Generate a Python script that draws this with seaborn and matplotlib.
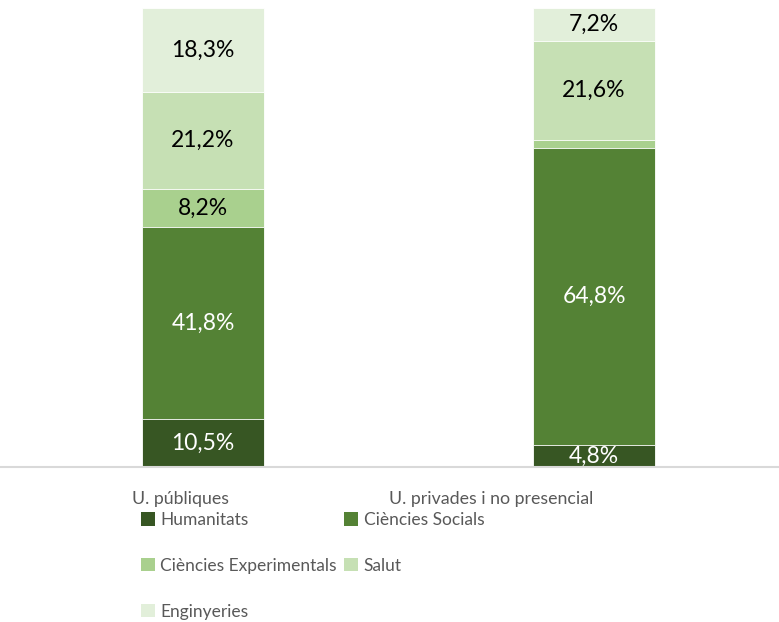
import numpy as np
import pandas as pd
import matplotlib.pyplot as plt
import matplotlib.transforms as mtransforms
from matplotlib.patches import Patch
import seaborn as sns

categories = ['U. públiques', 'U. privades i no presencial']
fields = ['Humanitats', 'Ciències Socials', 'Ciències Experimentals', 'Salut', 'Enginyeries']
publiques = [10.5, 41.8, 8.2, 21.2, 18.3]
privades = [4.8, 64.8, 1.6, 21.6, 7.2]
colors = ['#375623', '#548235', '#A9D08E', '#C6E0B4', '#E2EFDA']
label_colors = ['white', 'white', 'black', 'black', 'black']
min_label = 3.0

sns.set_theme(style='white')
plt.rcParams['font.family'] = ['Lato', 'DejaVu Sans']

df = pd.DataFrame({'Categoria': np.repeat(categories, len(fields)),
                   'Àmbit': fields * len(categories),
                   'Percentatge': publiques + privades})
df['Acumulat'] = df.groupby('Categoria')['Percentatge'].cumsum()
df['Centre'] = df['Acumulat'] - df['Percentatge'] / 2

fig = plt.figure(figsize=(7.79, 6.22), dpi=100)
ax = fig.add_axes([0.0, 0.2492, 1.0, 0.7379])

# stack by drawing cumulative totals from the top layer down
for field, color in reversed(list(zip(fields, colors))):
    sub = df[df['Àmbit'] == field]
    sns.barplot(data=sub, x='Categoria', y='Acumulat', order=categories,
                color=color, width=0.31, edgecolor='white', linewidth=0.6,
                saturation=1, ax=ax)

for i, cat in enumerate(categories):
    sub = df[df['Categoria'] == cat]
    for (_, row), tc in zip(sub.iterrows(), label_colors):
        if row['Percentatge'] < min_label:
            continue
        ax.text(i, row['Centre'], f"{row['Percentatge']:.1f}%".replace('.', ','),
                ha='center', va='center', fontsize=16.5, color=tc)

ax.set_xlim(-0.519, 1.473)
ax.set_ylim(0, 100)
ax.set_yticks([])
ax.set_xlabel('')
ax.set_ylabel('')
for s in ['top', 'left', 'right']:
    ax.spines[s].set_visible(False)
ax.spines['bottom'].set_color('#D9D9D9')
ax.spines['bottom'].set_linewidth(1.5)
ax.tick_params(axis='x', length=0, pad=17, labelsize=12.8, labelcolor='#595959')

shifts = [-22, -103]
for lab, dx in zip(ax.get_xticklabels(), shifts):
    lab.set_transform(lab.get_transform() + mtransforms.ScaledTranslation(dx / 100, 0, fig.dpi_scale_trans))

handles = [Patch(facecolor=c, edgecolor='none', label=f) for f, c in zip(fields, colors)]
order = [0, 2, 4, 1, 3]
fig.legend([handles[k] for k in order], [fields[k] for k in order],
           loc='upper left', bbox_to_anchor=(141 / 779, 1 - 512 / 622),
           ncol=2, frameon=False, fontsize=12.5, labelcolor='#595959',
           handlelength=0.8, handleheight=0.8, handletextpad=0.3,
           columnspacing=0.45, labelspacing=1.72, borderpad=0, borderaxespad=0)

fig.savefig('out.png', dpi=100)
